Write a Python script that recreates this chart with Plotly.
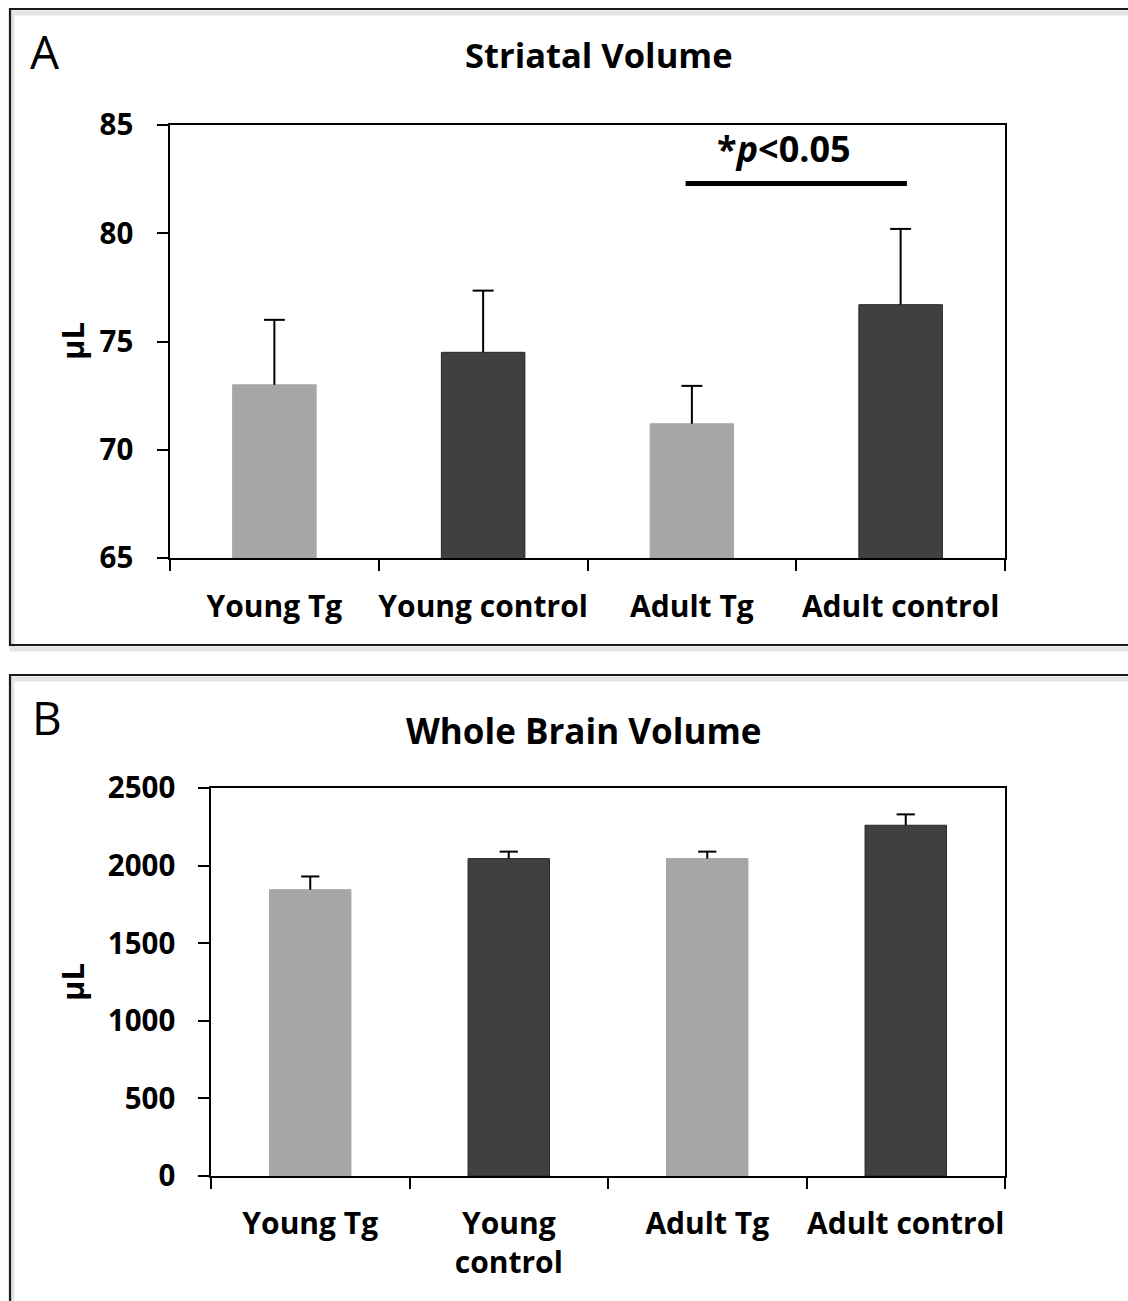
import plotly.graph_objects as go

# ---- data ----
categories = ["Young Tg", "Young control", "Adult Tg", "Adult control"]
labels_a = ["Young Tg", "Young control", "Adult Tg", "Adult control"]
labels_b = ["Young Tg", "Young<br>control", "Adult Tg", "Adult control"]
striatal_mean = [73.0, 74.5, 71.2, 76.7]
striatal_err = [3.0, 2.85, 1.75, 3.5]
brain_mean = [1845, 2045, 2045, 2260]
brain_err = [85, 45, 45, 70]
ticks_a = [65, 70, 75, 80, 85]
ticks_b = [0, 500, 1000, 1500, 2000, 2500]
bar_colors = ["#A6A6A6", "#404040", "#A6A6A6", "#404040"]
line_colors = ["#A6A6A6", "#262626", "#A6A6A6", "#262626"]

W, H = 1128, 1301
FONT = "Open Sans"


def px(x):
    return x / W


def py(y):
    return 1 - y / H


fig = go.Figure()


def add_panel(means, errs, xa, ya, width, cap):
    fig.add_trace(go.Bar(
        x=categories, y=means, xaxis=xa, yaxis=ya,
        marker=dict(color=bar_colors, line=dict(color=line_colors, width=1)),
        width=width, showlegend=False, hoverinfo="skip",
    ))
    # upper-only error whiskers
    wx, wy = [], []
    for c, m, e in zip(categories, means, errs):
        wx += [c, c, None]
        wy += [m, m + e, None]
    fig.add_trace(go.Scatter(
        x=wx, y=wy, xaxis=xa, yaxis=ya, mode="lines",
        line=dict(color="black", width=2), showlegend=False, hoverinfo="skip",
    ))
    fig.add_trace(go.Scatter(
        x=categories, y=[m + e for m, e in zip(means, errs)], xaxis=xa, yaxis=ya,
        mode="markers",
        marker=dict(symbol="line-ew-open", size=cap, color="black",
                    line=dict(color="black", width=2)),
        showlegend=False, hoverinfo="skip",
    ))


add_panel(striatal_mean, striatal_err, "x", "y", 0.4, 15)
add_panel(brain_mean, brain_err, "x2", "y2", 0.41, 13)

axis_common = dict(
    showline=True, linecolor="black", linewidth=1.5, mirror=True,
    ticks="outside", ticklen=11, tickwidth=1.5, tickcolor="black",
    showgrid=False, zeroline=False, automargin=False, tickangle=0,
)
xfont = dict(family=FONT, size=30, color="black", weight="bold")
yfont = dict(family=FONT, size=29.5, color="black", weight="bold")

fig.update_layout(
    width=W, height=H, autosize=False,
    margin=dict(l=0, r=0, t=0, b=0, autoexpand=False),
    paper_bgcolor="white", plot_bgcolor="white",
    bargap=0.6,
    xaxis=dict(domain=[px(170), px(1005)], anchor="y", type="category",
               tickson="boundaries", tickvals=categories, ticktext=labels_a,
               range=[-0.5, 3.5], ticklabelstandoff=21, tickfont=xfont, **axis_common),
    yaxis=dict(domain=[py(558), py(125)], anchor="x", range=[65, 85],
               tickvals=ticks_a, ticklabelstandoff=18, tickfont=yfont, **axis_common),
    xaxis2=dict(domain=[px(211), px(1005)], anchor="y2", type="category",
                tickson="boundaries", tickvals=categories, ticktext=labels_b,
                range=[-0.5, 3.5], ticklabelstandoff=20, tickfont=xfont, **axis_common),
    yaxis2=dict(domain=[py(1176), py(788)], anchor="x2", range=[0, 2500],
                tickvals=ticks_b, ticklabelstandoff=17, tickfont=yfont, **axis_common),
)

shapes = []
# panel frames with soft shadow
for (top, bottom) in [(9, 645), (675, 1340)]:
    shapes.append(dict(type="rect", xref="paper", yref="paper",
                       x0=px(12), x1=px(1160), y0=py(bottom + 4), y1=py(top + 4),
                       line=dict(color="#e4e4e4", width=5), layer="below"))
    shapes.append(dict(type="rect", xref="paper", yref="paper",
                       x0=px(10), x1=px(1160), y0=py(bottom), y1=py(top),
                       line=dict(color="#1a1a1a", width=2.2), layer="above"))
# significance bar between Adult Tg and Adult control
shapes.append(dict(type="line", xref="x", yref="y",
                   x0=categories.index("Adult Tg") - 0.03,
                   x1=categories.index("Adult control") + 0.03,
                   y0=82.3, y1=82.3, line=dict(color="black", width=5)))
fig.update_layout(shapes=shapes)

common_ann = dict(xref="paper", yref="paper", showarrow=False,
                  xanchor="center", yanchor="middle")
ann = [
    dict(text="A", x=px(45), y=py(51), font=dict(family=FONT, size=46, color="black"),
         **common_ann),
    dict(text="B", x=px(47), y=py(717), font=dict(family=FONT, size=46, color="black"),
         **common_ann),
    dict(text="Striatal Volume", x=px(599), y=py(55),
         font=dict(family=FONT, size=34.5, color="black", weight="bold"), **common_ann),
    dict(text="Whole Brain Volume", x=px(583), y=py(730),
         font=dict(family=FONT, size=35, color="black", weight="bold"), **common_ann),
    dict(text="µL", x=px(72), y=py(341), textangle=-90,
         font=dict(family=FONT, size=31, color="black", weight="bold"), **common_ann),
    dict(text="µL", x=px(72), y=py(982), textangle=-90,
         font=dict(family=FONT, size=31, color="black", weight="bold"), **common_ann),
    dict(text="*<i>p</i><0.05", x=2.44, y=83.9, xref="x", yref="y", showarrow=False,
         xanchor="center", yanchor="middle",
         font=dict(family=FONT, size=36, color="black", weight="bold")),
]
fig.update_layout(annotations=ann)

fig.write_html("out.html", config={"displayModeBar": False},
               post_script="document.body.style.margin='0';")
